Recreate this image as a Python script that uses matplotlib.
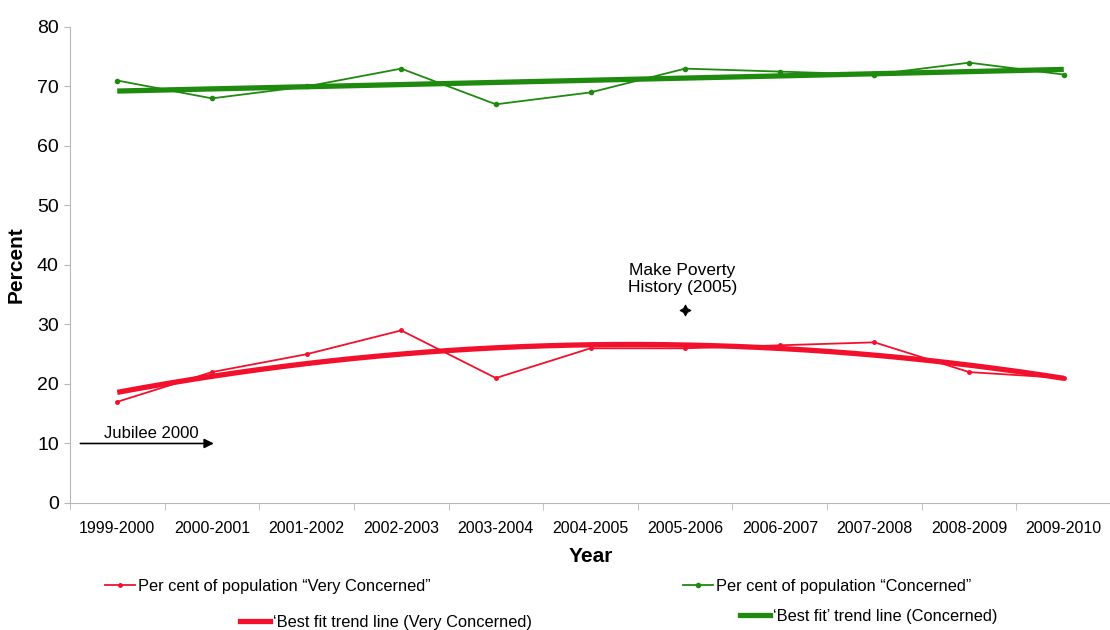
import numpy as np
import matplotlib
matplotlib.use("Agg")
import matplotlib.pyplot as plt
from matplotlib.lines import Line2D

plt.rcParams['font.family'] = ['Liberation Sans', 'DejaVu Sans']

years = ['1999-2000', '2000-2001', '2001-2002', '2002-2003', '2003-2004', '2004-2005',
         '2005-2006', '2006-2007', '2007-2008', '2008-2009', '2009-2010']
very_concerned = [17, 22, 25, 29, 21, 26, 26, 26.5, 27, 22, 21]
concerned = [71, 68, 70, 73, 67, 69, 73, 72.5, 72, 74, 72]

RED = '#f2102c'
GREEN = '#1e8a0e'
SPINE = '#b8b8b8'

x = np.arange(len(years))
xs = np.linspace(0, len(years) - 1, 200)
red_fit = np.polyval(np.polyfit(x, very_concerned, 2), xs)
green_fit = np.polyval(np.polyfit(x, concerned, 1), xs)

fig = plt.figure(figsize=(11.1, 6.3), dpi=100)
ax = fig.add_axes([0.063, 0.2016, 0.938, 0.7556])

l1, = ax.plot(x, very_concerned, color=RED, lw=1.3, marker='o', ms=2.5)
l2, = ax.plot(x, concerned, color=GREEN, lw=1.3, marker='o', ms=3)
l3, = ax.plot(xs, red_fit, color=RED, lw=3.8, solid_capstyle='butt')
l4, = ax.plot(xs, green_fit, color=GREEN, lw=3.8, solid_capstyle='butt')

ax.set_xlim(-0.5, len(years) - 0.5)
ax.set_ylim(0, 80)
ax.set_yticks(range(0, 81, 10))
ax.tick_params(axis='y', labelsize=14, color=SPINE, length=4, pad=4)
ax.set_xticks(x)
ax.set_xticklabels(years, fontsize=11.5)
ax.set_xticks(np.arange(-0.5, len(years)), minor=True)
ax.tick_params(axis='x', which='major', length=0, pad=13)
ax.tick_params(axis='x', which='minor', length=5, color=SPINE)
for s in ['top', 'right']:
    ax.spines[s].set_visible(False)
for s in ['left', 'bottom']:
    ax.spines[s].set_color(SPINE)

ax.set_ylabel('Percent', fontsize=15, fontweight='bold', labelpad=8)
ax.set_xlabel('Year', fontsize=15, fontweight='bold', labelpad=8)

# annotations
ax.plot(6, 32.5, marker=(4, 1, 0), color='black', ms=8, mew=0.6)
ax.text(5.97, 37.6, 'Make Poverty\nHistory (2005)', ha='center', va='center',
        fontsize=12.5, linespacing=1.15)
ax.annotate('', xy=(1.02, 10), xytext=(-0.39, 10),
            arrowprops=dict(arrowstyle='-|>', color='black', lw=1.2,
                            mutation_scale=14, shrinkA=0, shrinkB=0))
ax.text(-0.14, 10.4, 'Jubilee 2000', ha='left', va='bottom', fontsize=12)

# legend entries placed individually
entries = [
    (l1, 'Per cent of population \u201cVery Concerned\u201d', 105, 586),
    (l2, 'Per cent of population \u201cConcerned\u201d', 683, 586),
    (Line2D([], [], color=RED, lw=3.8), '\u2018Best fit trend line (Very Concerned)', 240, 622),
    (Line2D([], [], color=GREEN, lw=3.8), '\u2018Best fit\u2019 trend line (Concerned)', 740, 616),
]
for h, lab, px, py in entries:
    leg = fig.legend([h], [lab], loc='center left',
                     bbox_to_anchor=(px / 1110, 1 - py / 630),
                     frameon=False, fontsize=11.8, handlelength=1.8,
                     handletextpad=0.2, borderpad=0, borderaxespad=0)

fig.savefig('out.png', dpi=100)
